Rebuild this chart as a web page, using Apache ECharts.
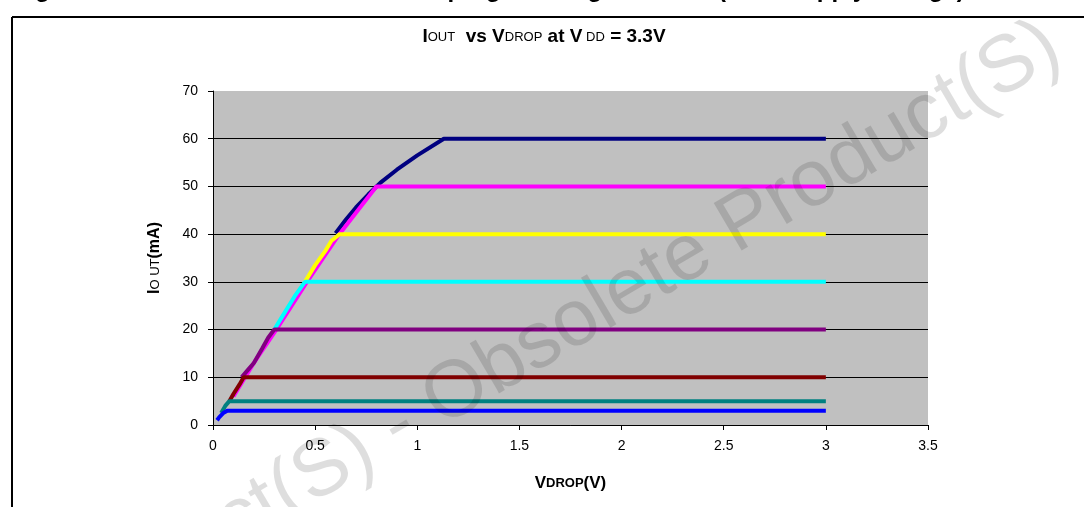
<!DOCTYPE html>
<html>
<head>
<meta charset="utf-8">
<script src="https://cdn.jsdelivr.net/npm/echarts@6/dist/echarts.min.js"></script>
<style>
html,body{margin:0;padding:0;background:#fff;}
#chart{width:1084px;height:507px;}
</style>
</head>
<body>
<div id="chart"></div>
<script>
// ---- data ----
const xMin = 0, xMax = 3.5, xStep = 0.5;
const yMin = 0, yMax = 70, yStep = 10;

const s60 = [[0.60,40.2],[0.65,43],[0.70,45.6],[0.76,48.3],[0.82,50.8],[0.90,53.5],[1.00,56.5],[1.13,60],[3,60]];
const s50 = [[0.10,6],[0.20,13],[0.31,20],[0.46,30],[0.61,39.5],[0.70,44.5],[0.80,50],[3,50]];
const s40 = [[0.45,30],[0.50,33.5],[0.55,36.5],[0.58,38.6],[0.60,39.3],[0.62,40],[3,40]];
const s30 = [[0.30,20],[0.35,23.5],[0.40,27],[0.45,30],[3,30]];
const s20 = [[0.14,10],[0.17,11.5],[0.20,13],[0.24,16],[0.27,18.3],[0.30,20],[3,20]];
const s10 = [[0.08,5],[0.10,6.5],[0.13,8.5],[0.15,10],[3,10]];
const s5  = [[0.04,2.5],[0.06,4],[0.08,5],[3,5]];
const s3  = [[0.02,1],[0.03,1.6],[0.05,2.5],[0.07,3],[3,3]];

const seriesNames = ['60 mA','50 mA','40 mA','30 mA','20 mA','10 mA','5 mA','3 mA'];
const seriesData  = [s60, s50, s40, s30, s20, s10, s5, s3];
const seriesColors = ['#000080','#FF00FF','#FFFF00','#00FFFF','#800080','#800000','#008080','#0000FF'];

const chart = echarts.init(document.getElementById('chart'), null, {renderer:'canvas', width:1084, height:507});

const FONT = 'Arial, "Liberation Sans", sans-serif';

const series = seriesData.map((d,i)=>({
  name: seriesNames[i],
  type: 'line',
  data: d,
  showSymbol: false,
  symbol: 'none',
  lineStyle: {color: seriesColors[i], width: 4},
  itemStyle: {color: seriesColors[i]},
  z: 3 + i,
  animation: false
}));

const gridColors = ['#000','#000','#000','#000','#000','#000','#000','rgba(0,0,0,0)'];
const WM_ANGLE = 30.5 * Math.PI / 180;
const WM_X = 450, WM_Y = 443;
const wmStyle = {font: '80px ' + FONT, fill: 'rgba(0,0,0,0.13)', textVerticalAlign: 'bottom'};

chart.setOption({
  animation: false,
  backgroundColor: '#fff',
  grid: {left: 213, right: 156, top: 91, bottom: 82, show: true, backgroundColor: '#C0C0C0', borderWidth: 0},
  xAxis: {
    type: 'value', min: xMin, max: xMax, interval: xStep,
    axisLine: {show: true, onZero: false, lineStyle: {color: '#000', width: 1}},
    axisTick: {show: true, length: 5, lineStyle: {color: '#000'}},
    splitLine: {show: false},
    axisLabel: {color: '#000', fontFamily: FONT, fontSize: 14, margin: 14},
    name: '{b|V}{s|DROP}{b|(V)}',
    nameLocation: 'middle', nameGap: 50,
    nameTextStyle: {rich: {
      b: {fontFamily: FONT, fontWeight: 'bold', fontSize: 17, color: '#000'},
      s: {fontFamily: FONT, fontWeight: 'bold', fontSize: 13, color: '#000'}
    }}
  },
  yAxis: {
    type: 'value', min: yMin, max: yMax, interval: yStep,
    axisLine: {show: true, lineStyle: {color: '#000', width: 1}},
    axisTick: {show: true, length: 5, lineStyle: {color: '#000'}},
    splitLine: {show: true, lineStyle: {color: gridColors, width: 1}},
    axisLabel: {color: '#000', fontFamily: FONT, fontSize: 14, margin: 15},
    name: '{b|I}{s|O UT}{b|(mA)}',
    nameLocation: 'middle', nameGap: 50, nameRotate: 90,
    nameTextStyle: {rich: {
      b: {fontFamily: FONT, fontWeight: 'bold', fontSize: 16, color: '#000'},
      s: {fontFamily: FONT, fontSize: 13, color: '#000'}
    }}
  },
  graphic: [
    {type: 'line', shape: {x1: 12, y1: 17, x2: 1084, y2: 17}, style: {stroke: '#000', lineWidth: 2}, z: 1},
    {type: 'line', shape: {x1: 12, y1: 17, x2: 12, y2: 507}, style: {stroke: '#000', lineWidth: 2}, z: 1},
    {type: 'text', x: 14, y: 2, z: 1,
     style: {text: 'Figure 9.  IOUT vs VDROP at different programming currents  (3.3 V supply voltage)',
             font: 'bold 24px ' + FONT, fill: '#000', textAlign: 'left', textVerticalAlign: 'bottom'}},
    {type: 'text', x: 544, y: 37, z: 10,
     style: {
       text: '{b|I}{s|OUT}{b|  vs V}{s|DROP}{b| at V}{s| DD}{b| = 3.3V}',
       textAlign: 'center', textVerticalAlign: 'middle',
       rich: {
         b: {fontFamily: FONT, fontWeight: 'bold', fontSize: 19, fill: '#000'},
         s: {fontFamily: FONT, fontSize: 13, fill: '#000'}
       }
     }},
    {type: 'text', x: WM_X, y: WM_Y, rotation: WM_ANGLE, z: 100, silent: true,
     style: Object.assign({text: 'Obsolete Product(S)', textAlign: 'left'}, wmStyle)},
    {type: 'text', x: WM_X, y: WM_Y, rotation: WM_ANGLE, z: 100, silent: true,
     style: Object.assign({text: 'Product(S) - ', textAlign: 'right'}, wmStyle)}
  ],
  series: series
});
</script>
</body>
</html>
